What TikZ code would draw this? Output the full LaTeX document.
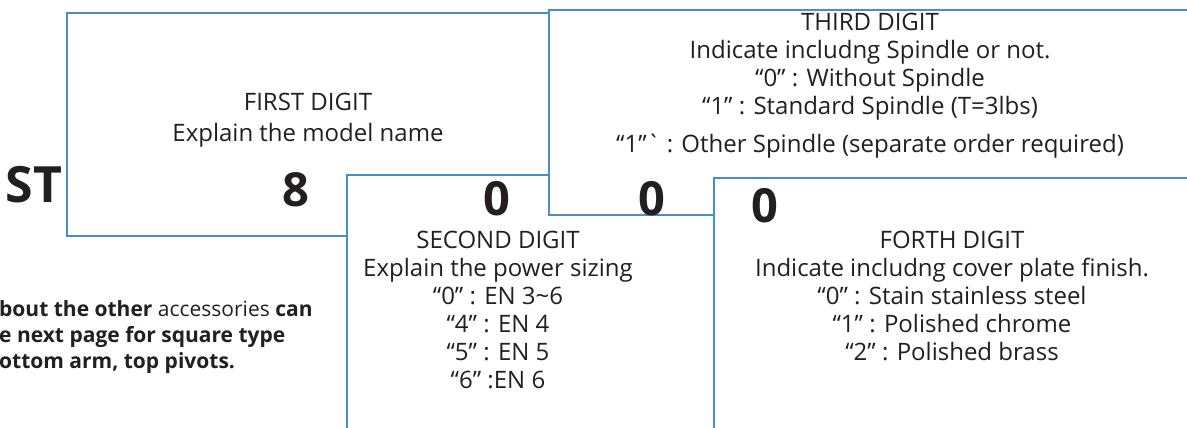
\documentclass[tikz,border=0pt]{standalone}
\usepackage{fontspec}
\setmainfont{Open Sans}
\usetikzlibrary{positioning}
\definecolor{boxblue}{RGB}{74,140,208}
\definecolor{ink}{RGB}{35,31,32}
\tikzset{
  digitbox/.style={draw=boxblue, line width=2.6pt, fill=white},
  boxtext/.style={align=center, inner sep=0pt, text=ink, font=\fontsize{24}{28}\selectfont},
  bigdigit/.style={inner sep=0pt, text=ink, font=\fontsize{47}{47}\selectfont\bfseries},
  notetext/.style={align=left, inner sep=0pt, text=ink, font=\fontsize{21}{26}\selectfont}
}

\begin{document}
\begin{tikzpicture}[x=1pt, y=-1pt]
	\useasboundingbox (0,0) rectangle (1187,428);
	\clip (0,0) rectangle (1187,428);
	\fill[white] (0,0) rectangle (1187,428);

	% boxes, back to front
	\draw[digitbox] (67,13) rectangle (640,236);
	\draw[digitbox] (347,175) rectangle (760,460);
	\draw[digitbox] (549,10) rectangle (1220,215);
	\draw[digitbox] (714,178) rectangle (1220,460);

	% model code
	\node[bigdigit, font=\fontsize{50}{50}\selectfont\bfseries] (st) at (34,185) {ST};
	\node[bigdigit] (d1) at (296,190) {8};
	\node[bigdigit] (d2) at (497,199) {0};
	\node[bigdigit] (d3) at (652,199) {0};
	\node[bigdigit] (d4) at (765,206) {0};

	% first digit
	\node[boxtext] (first) at (308,102) {FIRST DIGIT};
	\node[boxtext] (firstinfo) at (308,135) {Explain the model name};

	% second digit
	\node[boxtext, anchor=north] (second) at (498,231) {SECOND DIGIT\\
		Explain the power sizing\\
		``0'' : EN 3\textasciitilde6\\
		``4'' : EN 4\\
		``5'' : EN 5\\
		``6'' :EN 6};

	% third digit
	\node[boxtext, anchor=north] (third) at (870,13) {THIRD DIGIT\\
		Indicate includng Spindle or not.\\
		``0'' : Without Spindle\\
		``1'' : Standard Spindle (T=3lbs)};
	\node[boxtext] (thirdother) at (870,146) {``1''\textasciigrave{} : Other Spindle (separate order required)};

	% forth digit
	\node[boxtext, anchor=north] (forth) at (952,231) {FORTH DIGIT\\
		Indicate includng cover plate finish.\\
		``0'' : Stain stainless steel\\
		``1'' : Polished chrome\\
		``2'' : Polished brass};

	% note, cut at the left edge
	\node[notetext, anchor=north west] (note) at (-1,300) {\textbf{bout the other} accessories \textbf{can}\\
		\textbf{e next page for square type}\\
		\textbf{ottom arm, top pivots.}};
\end{tikzpicture}
\end{document}
